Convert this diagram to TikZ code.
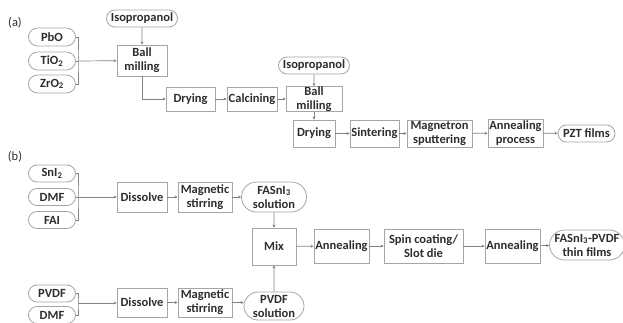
\documentclass[tikz,border=0pt]{standalone}
\usepackage{fontspec}
\setmainfont{Carlito}
\usetikzlibrary{arrows.meta,shapes.misc}
\definecolor{edgegray}{RGB}{165,165,165}
\definecolor{linegray}{RGB}{130,130,130}
\definecolor{txtgray}{RGB}{45,45,45}
\tikzset{
    box/.style 2 args={draw=edgegray, line width=0.8pt, text=txtgray, align=center, inner sep=0pt,
        font=\fontsize{12.5}{14}\selectfont\bfseries, minimum width=#1, minimum height=#2},
    pill/.style 2 args={box={#1}{#2}, rounded rectangle, rounded rectangle arc length=180},
    link/.style={draw=linegray, line width=0.7pt},
    flow/.style={link, -{Stealth[length=3pt,width=3pt]}},
    tag/.style={text=txtgray, font=\fontsize{12.5}{14}\selectfont}
}
\begin{document}
\begin{tikzpicture}[x=1pt, y=-1pt]
\useasboundingbox (0,0) rectangle (623,323);
% (a)
\node[tag] (la) at (15,23) {(a)};
\foreach \p/\y/\t in {pbo/37/PbO, tio/61/{TiO\textsubscript{2}}, zro/84/{ZrO\textsubscript{2}}}{
    \node[pill={47pt}{18pt}] (\p) at (52,\y) {\t};
}
\node[pill={71pt}{17pt}] (iso1) at (142,18.5) {Isopropanol};
\node[box={50pt}{31pt}] (ball1) at (142,60.5) {Ball\\milling};
\node[box={49pt}{24pt}] (dry1) at (190.5,99) {Drying};
\node[box={50pt}{24pt}] (calc) at (252,99) {Calcining};
\node[pill={71pt}{17pt}] (iso2) at (314,65.5) {Isopropanol};
\node[box={56pt}{24pt}, inner ysep=0pt] (ball2) at (314,99) {Ball\\milling};
\node[box={42pt}{27pt}] (dry2) at (314,133.5) {Drying};
\node[box={49pt}{27pt}] (sint) at (374.5,133.5) {Sintering};
\node[box={65pt}{27pt}] (magn) at (439.5,133.5) {Magnetron\\sputtering};
\node[box={55pt}{28pt}] (anpr) at (515.5,133) {Annealing\\process};
\node[pill={57pt}{17pt}] (pzt) at (586.5,133.5) {PZT films};
\coordinate (ja) at (78,61);
\draw[link] (pbo.east) -| (ja) |- (zro.east);
\draw[link] (tio.east) -- (ja);
\draw[flow] (ja) -- (ball1);
\draw[flow] (iso1) -- (ball1);
\draw[flow] (ball1) |- (dry1);
\draw[flow] (dry1) -- (calc);
\draw[flow] (calc) -- (ball2);
\draw[flow] (iso2) -- (ball2);
\draw[flow] (ball2) -- (dry2);
\foreach \a/\b in {dry2/sint, sint/magn, magn/anpr, anpr/pzt}
    \draw[flow] (\a) -- (\b);
% (b)
\node[tag] (lb) at (15,157) {(b)};
\foreach \p/\y/\t in {sni/173.5/{SnI\textsubscript{2}}, dmfa/197/DMF, fai/220/FAI, pvdf/293.5/PVDF, dmfb/315/DMF}{
    \node[pill={47pt}{17pt}] (\p) at (52,\y) {\t};
}
\node[box={50pt}{30pt}] (dis1) at (142,197) {Dissolve};
\node[box={54pt}{30pt}] (mag1) at (205,197) {Magnetic\\stirring};
\node[pill={65pt}{30pt}] (fas) at (274,197) {FASnI\textsubscript{3}\\solution};
\node[box={44pt}{37pt}] (mix) at (274,246.5) {Mix};
\node[box={55pt}{34pt}] (ann1) at (341.5,246) {Annealing};
\node[box={79pt}{34pt}] (spin) at (423.5,246) {Spin coating/\\Slot die};
\node[box={55pt}{34pt}] (ann2) at (512.5,246) {Annealing};
\node[pill={72pt}{30pt}] (thin) at (587,245) {FASnI\textsubscript{3}-PVDF\\thin films};
\node[box={50pt}{29pt}] (dis2) at (142,302.5) {Dissolve};
\node[box={54pt}{29pt}] (mag2) at (205,302.5) {Magnetic\\stirring};
\node[pill={60pt}{28pt}] (pvs) at (274,306) {PVDF\\solution};
\coordinate (jb) at (78,197);
\coordinate (jc) at (78,303);
\draw[link] (sni.east) -| (jb) |- (fai.east);
\draw[link] (dmfa.east) -- (jb);
\draw[link] (pvdf.east) -| (jc) |- (dmfb.east);
\draw[flow] (jb) -- (dis1);
\draw[flow] (jc) -- (jc -| dis2.west);
\foreach \a/\b in {dis1/mag1, mag1/fas, dis2/mag2, fas/mix, pvs/mix, mix/ann1, ann1/spin, spin/ann2, ann2/thin}
    \draw[flow] (\a) -- (\b);
\draw[flow] (mag2.east) -- (mag2.east -| pvs.west);
\end{tikzpicture}
\end{document}
